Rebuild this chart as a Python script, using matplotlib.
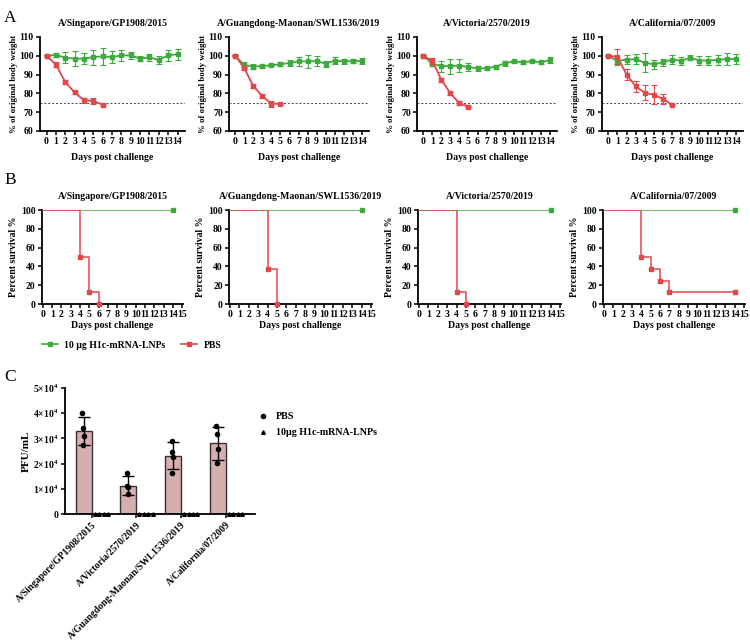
import matplotlib
matplotlib.use("Agg")
import matplotlib.pyplot as plt
import numpy as np
from matplotlib.lines import Line2D

plt.rcParams['font.family'] = ['Liberation Serif', 'DejaVu Serif']
plt.rcParams['font.weight'] = 'bold'
plt.rcParams['axes.labelweight'] = 'bold'
plt.rcParams['mathtext.fontset'] = 'custom'
plt.rcParams['mathtext.rm'] = 'Liberation Serif:bold'
plt.rcParams['mathtext.default'] = 'rm'

GREEN = '#3daa3d'
RED = '#e2474b'

strains = ["A/Singapore/GP1908/2015", "A/Guangdong-Maonan/SWL1536/2019",
           "A/Victoria/2570/2019", "A/California/07/2009"]
days = list(range(15))

# Panel A: body weight (% of original)
lnp_mean = [
    [100, 100.5, 99, 98.5, 98.5, 99.3, 99.7, 99.3, 100.2, 100.2, 98.5, 99.2, 97.8, 100.3, 100.8],
    [100, 95, 94.3, 94.5, 95, 95.5, 96.2, 97, 97, 97.2, 95.8, 97.5, 97, 97.2, 97.3],
    [100, 95.8, 94.5, 94.5, 94.8, 94, 93.3, 93.3, 94.2, 96, 97, 96.5, 97.2, 96.5, 97.7],
    [100, 97.2, 98, 98.2, 96.3, 95.5, 96.5, 98, 97.3, 99, 97.5, 97.5, 97.8, 98.3, 98.3],
]
lnp_err = [
    [0.3, 1.2, 3, 4, 3, 4, 4.5, 3, 2.8, 2, 1.5, 2, 2, 3, 3],
    [0.3, 1.5, 1.5, 0.8, 0.5, 1, 1.5, 2.5, 3.5, 2.5, 1.5, 2, 1.5, 1, 1.5],
    [0.3, 1, 3, 4, 3.5, 2, 1.2, 1, 1, 1.5, 1, 1, 0.5, 1, 1.5],
    [0.3, 2, 2.5, 2.8, 5, 2.5, 2, 2.5, 2, 1.3, 2.3, 2.3, 2.5, 3, 2.5],
]
pbs_mean = [
    [100, 95.3, 86, 80.5, 76.3, 76, 74],
    [100, 93.3, 83.8, 78.5, 74.5, 74.5],
    [100, 97.3, 87.2, 80, 74.8, 73],
    [100, 99.5, 90, 83.8, 80.3, 79.3, 77, 74],
]
pbs_err = [
    [0.3, 1.5, 1.2, 1, 1.5, 1.5, 0.5],
    [0.3, 1, 1, 1, 1.5, 0.3],
    [0.3, 1.5, 1.2, 1, 1, 0.3],
    [0.3, 4, 2.8, 2.8, 4, 5, 2.7, 0.3],
]

# Panel B: survival
lnp_surv_t = [[0, 14], [0, 14], [0, 14], [0, 14]]
lnp_surv = [[100, 100], [100, 100], [100, 100], [100, 100]]
pbs_surv_t = [[0, 4, 5, 6], [0, 4, 5], [0, 4, 5], [0, 4, 5, 6, 7, 14]]
pbs_surv = [[100, 50, 12.5, 0], [100, 37.5, 0], [100, 12.5, 0], [100, 50, 37.5, 25, 12.5, 12.5]]

# Panel C: lung titers
c_strains = ["A/Singapore/GP1908/2015", "A/Victoria/2570/2019",
             "A/Guangdong-Maonan/SWL1536/2019", "A/California/07/2009"]
pbs_titer_mean = [33000, 11300, 23100, 28000]
pbs_titer_sd = [5500, 3700, 5300, 6600]
pbs_titer_pts = [[40000, 34000, 31000, 27500], [16400, 11300, 10900, 8000],
                 [29000, 24500, 22800, 16400], [35000, 31600, 25900, 20400]]
lnp_titer_pts = [[0, 0, 0, 0]] * 4

W, H = 750, 641
fig = plt.figure(figsize=(7.5, 6.41), dpi=100)

def ax_px(l, r, t, b):
    return fig.add_axes([l / W, 1 - b / H, (r - l) / W, (b - t) / H])

def style(ax, ls=7):
    for s in ['top', 'right']:
        ax.spines[s].set_visible(False)
    for s in ['left', 'bottom']:
        ax.spines[s].set_linewidth(1.3)
    ax.tick_params(width=1.1, length=3, labelsize=ls, pad=1.5)
    for lab in ax.get_xticklabels() + ax.get_yticklabels():
        lab.set_fontweight('bold')

A_pos = [(40, 185), (229, 369), (417, 557), (602, 743)]
B_pos = [(42, 183), (229, 372), (418, 561), (603, 745)]

for i in range(4):
    ax = ax_px(A_pos[i][0], A_pos[i][1], 37, 131)
    ax.axhline(75, color='#444444', lw=0.7, ls=(0, (2, 2)))
    ax.errorbar(days, lnp_mean[i], yerr=lnp_err[i], color=GREEN, lw=1.3,
                marker='s', ms=2.8, capsize=2, elinewidth=0.8, capthick=0.8, zorder=3)
    d = days[:len(pbs_mean[i])]
    ax.errorbar(d, pbs_mean[i], yerr=pbs_err[i], color=RED, lw=1.3,
                marker='s', ms=2.8, capsize=2, elinewidth=0.8, capthick=0.8, zorder=4)
    ax.set_ylim(60, 110)
    ax.set_yticks([60, 70, 80, 90, 100, 110])
    ax.set_xlim(-0.7, 14.8)
    ax.set_xticks(days)
    style(ax)
    ax.set_xlabel("Days post challenge", fontsize=7, labelpad=5)
    ax.set_ylabel("% of original body weight", fontsize=6.3, labelpad=1)
    ax.set_title(strains[i], fontsize=7, fontweight='bold', pad=8)

for i in range(4):
    ax = ax_px(B_pos[i][0], B_pos[i][1], 210, 304)
    ax.step(lnp_surv_t[i], lnp_surv[i], where='post', color=GREEN, lw=1.1, zorder=3)
    ax.plot(lnp_surv_t[i][1:], lnp_surv[i][1:], 's', color=GREEN, ms=2.5, clip_on=False, zorder=4)
    ax.step(pbs_surv_t[i], pbs_surv[i], where='post', color=RED, lw=1.1, zorder=3)
    ax.plot(pbs_surv_t[i][1:], pbs_surv[i][1:], 's', color=RED, ms=2.5, clip_on=False, zorder=5)
    ax.set_ylim(0, 100)
    ax.set_yticks([0, 20, 40, 60, 80, 100])
    ax.set_xlim(-0.1, 15.1)
    ax.set_xticks(range(16))
    style(ax)
    ax.set_xlabel("Days post challenge", fontsize=7, labelpad=1)
    ax.set_ylabel("Percent survival %", fontsize=7, labelpad=2)
    ax.set_title(strains[i], fontsize=7, fontweight='bold', pad=8)

# legend for A/B
h1 = Line2D([], [], color=GREEN, marker='s', ms=2.8, lw=1.2)
h2 = Line2D([], [], color=RED, marker='s', ms=2.8, lw=1.2)
fig.legend([h1, h2], ["10 µg H1c-mRNA-LNPs", "PBS"], loc='center left',
           bbox_to_anchor=(42 / W, 1 - 345 / H), ncol=2, frameon=False,
           prop={'size': 7, 'weight': 'bold'}, handlelength=1.6, columnspacing=1.6,
           handletextpad=0.7, borderpad=0, borderaxespad=0)

# Panel C
axc = ax_px(65, 255, 388, 514)
x = np.arange(len(c_strains))
bw = 0.36
axc.bar(x - bw / 2, pbs_titer_mean, width=bw, color='#d5aeae', edgecolor='#3a3030',
        lw=1.0, zorder=2)
axc.errorbar(x - bw / 2, pbs_titer_mean, yerr=pbs_titer_sd, fmt='none', ecolor='black',
             elinewidth=1.0, capsize=4, capthick=1.0, zorder=3)
jit = [-0.03, -0.02, 0.0, -0.01]
for k in range(len(c_strains)):
    for j, v in enumerate(pbs_titer_pts[k]):
        axc.plot(x[k] - bw / 2 + jit[j], v, 'o', color='black', ms=3.0, zorder=4)
    for j, v in enumerate(lnp_titer_pts[k]):
        axc.plot(x[k] + 0.07 + j * 0.1, v, '^', color='black', ms=2.6, clip_on=False, zorder=4)
axc.set_xlim(-0.6, 3.66)
axc.set_ylim(0, 50000)
axc.set_yticks([0, 10000, 20000, 30000, 40000, 50000])
axc.set_yticklabels(["0"] + [r"%d$\times$10$^{4}$" % n for n in range(1, 6)])
axc.set_xticks(x)
axc.set_xticklabels(c_strains, rotation=45, ha='right', rotation_mode='anchor')
style(axc, ls=7)
for lab in axc.get_xticklabels():
    lab.set_fontsize(6.9)
axc.set_ylabel("PFU/mL", fontsize=8, labelpad=2)
hc1 = Line2D([], [], color='black', marker='o', ms=3.0, lw=0)
hc2 = Line2D([], [], color='black', marker='^', ms=2.6, lw=0)
fig.legend([hc1, hc2], ["PBS", "10µg H1c-mRNA-LNPs"], loc='upper left',
           bbox_to_anchor=(258 / W, 1 - 412 / H), frameon=False,
           prop={'size': 7.2, 'weight': 'bold'}, handlelength=1.0, handletextpad=0.8,
           labelspacing=0.7, borderpad=0, borderaxespad=0)

for lab, (px, py) in zip("ABC", [(4, 18), (4, 180), (4, 377)]):
    fig.text(px / W, 1 - py / H, lab, fontsize=12.5, fontweight='normal', va='center', ha='left')

fig.savefig("out.png", dpi=100)
